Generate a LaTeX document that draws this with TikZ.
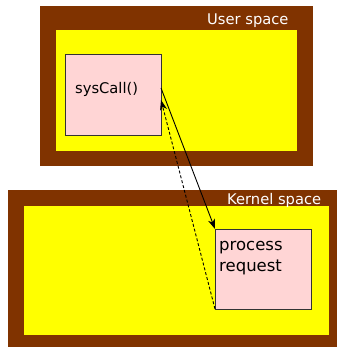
\documentclass[tikz,border=0pt]{standalone}
\usepackage{fontspec}
\setmainfont{DejaVu Sans}
\usetikzlibrary{arrows.meta}
\definecolor{brownbg}{RGB}{128,51,0}
\definecolor{pinkbox}{RGB}{255,213,213}
\definecolor{yellowbg}{RGB}{255,255,0}
\begin{document}
\begin{tikzpicture}[x=1pt,y=-1pt,
  region/.style={rectangle, fill=brownbg, inner sep=0pt, outer sep=0pt, anchor=north west},
  area/.style={rectangle, fill=yellowbg, inner sep=0pt, outer sep=0pt, anchor=north west},
  procbox/.style={rectangle, fill=pinkbox, draw=black!80, line width=0.8pt, inner sep=0pt, outer sep=0pt, anchor=north west},
  txt/.style={font=\fontsize{14.7}{17}\selectfont, inner sep=0pt, anchor=base west},
  bigtxt/.style={font=\fontsize{16.5}{20}\selectfont, inner sep=0pt, anchor=base west},
  arr/.style={line width=0.9pt, -{Stealth[length=10pt,width=7pt,inset=3pt]}}
]
\useasboundingbox (0,0) rectangle (341,347);
% user space
\node[region, minimum width=273pt, minimum height=160pt] (user) at (40,6) {};
\node[area, minimum width=241pt, minimum height=121pt] (userin) at (56,30) {};
\node[procbox, minimum width=96pt, minimum height=81pt] (sys) at (65,54) {};
\node[txt] (systxt) at (75,94) {sysCall()};
\node[txt, text=white] (utxt) at (207,25) {User space};
% kernel space
\node[region, minimum width=329pt, minimum height=157pt] (kernel) at (8,190) {};
\node[area, minimum width=305pt, minimum height=128.5pt] (kernelin) at (24,206) {};
\node[procbox, minimum width=96pt, minimum height=80pt] (proc) at (215,229) {};
\node[txt, text=white] (ktxt) at (227,204) {Kernel space};
\node[bigtxt] (ptxt1) at (219,250) {process};
\node[bigtxt] (ptxt2) at (219,271) {request};
% connectors
\draw[arr] ([yshift=6.5pt]sys.east) -- (proc.north west);
\draw[arr, dash pattern=on 3pt off 2pt] (proc.south west) -- ([yshift=-5.5pt]sys.east);
\end{tikzpicture}
\end{document}
